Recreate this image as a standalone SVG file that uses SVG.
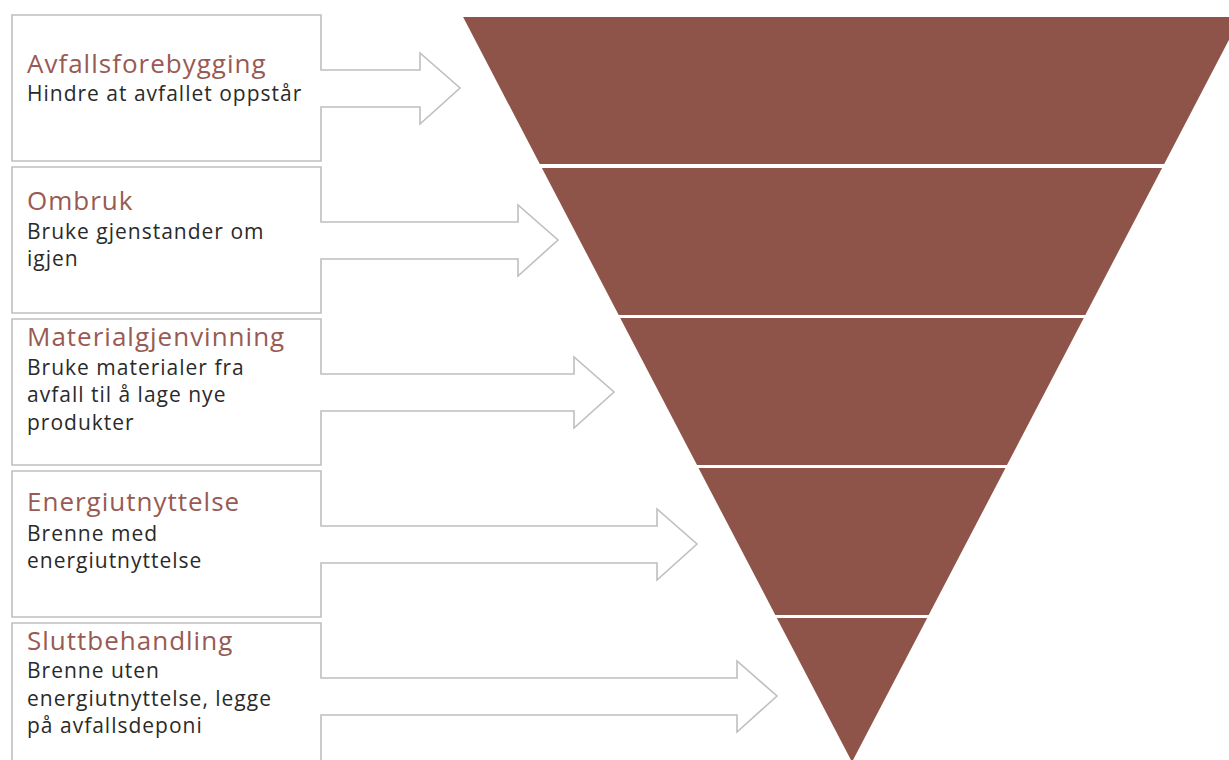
<svg xmlns="http://www.w3.org/2000/svg" width="1229" height="760" viewBox="0 0 1229 760">
<style>
.box{fill:#fff;stroke:#bfbfbf;stroke-width:1.6;stroke-linejoin:miter}
.band{fill:#8f5449}
.t{font-family:"Open Sans","Noto Sans",sans-serif;font-size:26px;letter-spacing:1px;fill:#985a52}
.b{font-family:"Open Sans","Noto Sans",sans-serif;font-size:21px;letter-spacing:1px;fill:#2a2a2a}
</style>
<rect width="1229" height="760" fill="#fff"/>
<g id="pyramid">
<g id="band1"><polygon class="band" points="463.1,17 1240.9,17 1164.2,164 539.8,164"/></g>
<g id="band2"><polygon class="band" points="541.9,168 1162.1,168 1085.3,315 618.7,315"/></g>
<g id="band3"><polygon class="band" points="620.2,318 1083.8,318 1007,465 697,465"/></g>
<g id="band4"><polygon class="band" points="698.5,468 1005.5,468 928.7,615 775.3,615"/></g>
<g id="band5"><polygon class="band" points="776.8,618 927.2,618 852,762"/></g>
</g>
<g id="connectors"></g>
<g id="node1">
<path class="box" d="M12,15 H321 V70 H420 V53 L460,88 L420,124 V107 H321 V161 H12 Z"/>
<text class="t" x="27" y="73">Avfallsforebygging</text>
<text class="b" x="27" y="101">Hindre at avfallet oppstår</text>
</g>
<g id="node2">
<path class="box" d="M12,167 H321 V222 H518 V205 L558,240 L518,276 V259 H321 V313 H12 Z"/>
<text class="t" x="27" y="210">Ombruk</text>
<text class="b" x="27" y="239">Bruke gjenstander om</text>
<text class="b" x="27" y="266">igjen</text>
</g>
<g id="node3">
<path class="box" d="M12,319 H321 V374 H574 V357 L614,392 L574,428 V411 H321 V465 H12 Z"/>
<text class="t" x="27" y="346">Materialgjenvinning</text>
<text class="b" x="27" y="375">Bruke materialer fra</text>
<text class="b" x="27" y="402">avfall til å lage nye</text>
<text class="b" x="27" y="430">produkter</text>
</g>
<g id="node4">
<path class="box" d="M12,471 H321 V526 H657 V509 L697,544 L657,580 V563 H321 V617 H12 Z"/>
<text class="t" x="27" y="511">Energiutnyttelse</text>
<text class="b" x="27" y="541">Brenne med</text>
<text class="b" x="27" y="568">energiutnyttelse</text>
</g>
<g id="node5">
<path class="box" d="M12,623 H321 V678 H737 V661 L777,696 L737,732 V715 H321 V769 H12 Z"/>
<text class="t" x="27" y="650">Sluttbehandling</text>
<text class="b" x="27" y="678">Brenne uten</text>
<text class="b" x="27" y="706">energiutnyttelse, legge</text>
<text class="b" x="27" y="733">på avfallsdeponi</text>
</g>
</svg>
